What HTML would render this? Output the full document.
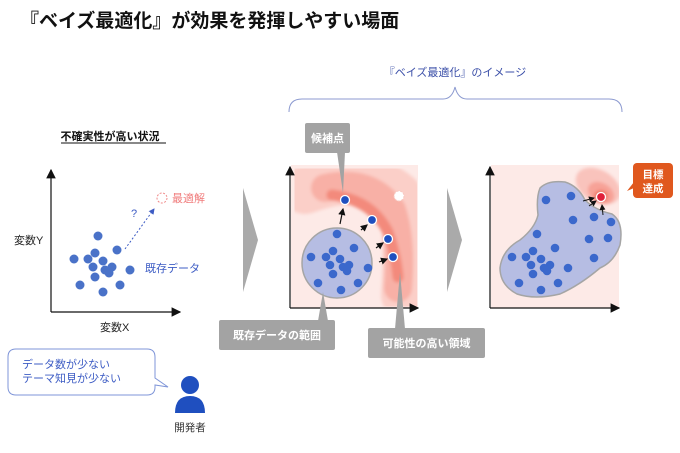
<!DOCTYPE html>
<html><head><meta charset="utf-8"><style>
html,body{margin:0;padding:0;background:#fff;}
svg{display:block;font-family:"Liberation Sans","Noto Sans CJK JP",sans-serif;}
</style></head><body>
<svg width="680" height="453" viewBox="0 0 680 453" xmlns="http://www.w3.org/2000/svg">
<defs>
<marker id="ah" markerWidth="6" markerHeight="6" refX="5" refY="3" orient="auto"><path d="M0,0 L6,3 L0,6 z" fill="#111"/></marker>
<marker id="ahb" markerWidth="6" markerHeight="6" refX="5" refY="3" orient="auto"><path d="M0,0 L6,3 L0,6 z" fill="#3d5cc4"/></marker>
<marker id="ax" markerWidth="8" markerHeight="8" refX="7" refY="4" orient="auto"><path d="M0,0 L8,4 L0,8 z" fill="#111"/></marker>
<filter id="bl"><feGaussianBlur stdDeviation="1.5"/></filter>
<clipPath id="cm"><rect x="291" y="165" width="127" height="143"/></clipPath>
<clipPath id="cr"><rect x="491" y="165" width="128" height="143"/></clipPath>
</defs>
<text x="20" y="27" font-size="19" font-weight="bold" fill="#111">『ベイズ最適化』が効果を発揮しやすい場面</text>

<text x="455" y="76" font-size="11" fill="#3b4fa8" text-anchor="middle">『ベイズ最適化』のイメージ</text>
<path d="M289,112 Q289,99 302,99 L443,99 Q452,99 455,87 Q458,99 467,99 L609,99 Q622,99 622,112" fill="none" stroke="#8c9ad0" stroke-width="1"/>

<text x="110" y="140" font-size="11" font-weight="bold" fill="#111" text-anchor="middle">不確実性が高い状況</text>
<line x1="61" y1="143" x2="166" y2="143" stroke="#111" stroke-width="1"/>
<line x1="51" y1="312" x2="51" y2="170" stroke="#111" stroke-width="1.2" marker-end="url(#ax)"/>
<line x1="51" y1="312" x2="180" y2="312" stroke="#111" stroke-width="1.2" marker-end="url(#ax)"/>
<text x="14" y="244" font-size="11" fill="#222">変数Y</text>
<text x="100" y="331" font-size="11" fill="#222">変数X</text>
<g fill="#4a72c8">
<circle cx="98" cy="236" r="4.5"/><circle cx="117" cy="250" r="4.5"/><circle cx="74" cy="259" r="4.5"/><circle cx="88" cy="259" r="4.5"/><circle cx="95" cy="253" r="4.5"/><circle cx="103" cy="261" r="4.5"/><circle cx="93" cy="267" r="4.5"/><circle cx="105" cy="270" r="4.5"/><circle cx="112" cy="267" r="4.5"/><circle cx="109" cy="273" r="4.5"/><circle cx="130" cy="270" r="4.5"/><circle cx="95" cy="277" r="4.5"/><circle cx="80" cy="285" r="4.5"/><circle cx="103" cy="292" r="4.5"/><circle cx="120" cy="285" r="4.5"/>
</g>
<line x1="125" y1="249" x2="154" y2="209" stroke="#3d5cc4" stroke-width="1" stroke-dasharray="2,2" marker-end="url(#ahb)"/>
<text x="131" y="217" font-size="11" fill="#3d5cc4">?</text>
<circle cx="162" cy="198" r="5" fill="none" stroke="#f08a8a" stroke-width="1" stroke-dasharray="2,1.5"/>
<text x="172" y="202" font-size="11" fill="#f07b7b">最適解</text>
<text x="145" y="272" font-size="11" fill="#3d5cc4">既存データ</text>

<path d="M243,188 L258,240 L243,292 Z" fill="#aaa"/>
<path d="M447,188 L462,240 L447,292 Z" fill="#aaa"/>

<rect x="291" y="165" width="127" height="143" fill="#fdeae7"/>
<g clip-path="url(#cm)">
<g filter="url(#bl)">
<path d="M305,190 Q365,168 398,196 Q410,225 405,295" fill="none" stroke="#fbcfc8" stroke-width="48" stroke-linecap="round" stroke-linejoin="round"/>
<path d="M325,188 Q370,178 392,210 Q402,240 398,288" fill="none" stroke="#f8b0a6" stroke-width="28" stroke-linecap="round"/>
<path d="M332,195 Q372,200 388,232 Q396,255 398,277" fill="none" stroke="#f38a7c" stroke-width="11" stroke-linecap="round"/>
</g>
</g>
<circle cx="399" cy="196" r="5" fill="#fff" stroke="#f7c8c0" stroke-dasharray="2,1.5"/>
<circle cx="337" cy="263" r="35" fill="#b6bde3" stroke="#a5a5a5" stroke-width="1.5"/>
<g fill="#3b68cc">
<circle cx="337" cy="234" r="4.3"/><circle cx="333" cy="251" r="4.3"/><circle cx="354" cy="248" r="4.3"/><circle cx="311" cy="257" r="4.3"/><circle cx="326" cy="257" r="4.3"/><circle cx="340" cy="259" r="4.3"/><circle cx="330" cy="265" r="4.3"/><circle cx="343" cy="267" r="4.3"/><circle cx="349" cy="265" r="4.3"/><circle cx="347" cy="271" r="4.3"/><circle cx="368" cy="268" r="4.3"/><circle cx="333" cy="274" r="4.3"/><circle cx="318" cy="283" r="4.3"/><circle cx="358" cy="283" r="4.3"/><circle cx="341" cy="290" r="4.3"/>
</g>
<g stroke="#111" stroke-width="1.2">
<line x1="340" y1="224" x2="343" y2="209" marker-end="url(#ah)"/>
<line x1="361" y1="230" x2="367" y2="225" marker-end="url(#ah)"/>
<line x1="376" y1="248" x2="383" y2="243" marker-end="url(#ah)"/>
<line x1="379" y1="262" x2="387" y2="259" marker-end="url(#ah)"/>
</g>
<g fill="#1f4fbf" stroke="#fff" stroke-width="1.3">
<circle cx="345" cy="200" r="4.5"/><circle cx="372" cy="220" r="4.5"/><circle cx="388" cy="239" r="4.5"/><circle cx="393" cy="257" r="4.5"/>
</g>
<line x1="290" y1="308" x2="290" y2="167" stroke="#111" stroke-width="1.2" marker-end="url(#ax)"/>
<line x1="290" y1="308" x2="418" y2="308" stroke="#111" stroke-width="1.2" marker-end="url(#ax)"/>

<rect x="305" y="123" width="45" height="30" rx="2" fill="#a3a3a3"/>
<path d="M337,152 L345,152 L343,193 Z" fill="#a3a3a3"/>
<text x="327.5" y="142" font-size="11" font-weight="bold" fill="#fff" text-anchor="middle">候補点</text>
<rect x="219" y="320" width="116" height="30" rx="2" fill="#a3a3a3"/>
<path d="M318,321 L328,321 L323,292 Z" fill="#a3a3a3"/>
<text x="277" y="339" font-size="11" font-weight="bold" fill="#fff" text-anchor="middle">既存データの範囲</text>
<rect x="368" y="328" width="117" height="30" rx="2" fill="#a3a3a3"/>
<path d="M395,329 L405,329 L400,272 Z" fill="#a3a3a3"/>
<text x="426.5" y="347" font-size="11" font-weight="bold" fill="#fff" text-anchor="middle">可能性の高い領域</text>

<rect x="491" y="165" width="128" height="143" fill="#fdeae7"/>
<g clip-path="url(#cr)"><g filter="url(#bl)">
<ellipse cx="598" cy="186" rx="24" ry="16" fill="#f9c3bc" transform="rotate(30 598 186)"/>
<ellipse cx="601" cy="193" rx="14" ry="10" fill="#f7a297" transform="rotate(30 601 193)"/>
<ellipse cx="601" cy="196" rx="7" ry="6" fill="#f07b6c"/>
</g></g>
<path d="M540,188 Q548,180 565,182 Q578,186 585,200 Q595,210 612,214 Q624,222 620,245 Q614,262 600,268 Q580,285 560,294 Q535,300 517,294 Q500,285 500,268 Q502,250 520,240 Q535,228 538,215 Q536,198 540,188 Z" fill="#b6bde3" stroke="#a5a5a5" stroke-width="1.5"/>
<g fill="#3b68cc">
<circle cx="546" cy="200" r="4.3"/><circle cx="571" cy="196" r="4.3"/><circle cx="573" cy="220" r="4.3"/><circle cx="594" cy="217" r="4.3"/><circle cx="611" cy="222" r="4.3"/><circle cx="537" cy="234" r="4.3"/><circle cx="589" cy="239" r="4.3"/><circle cx="608" cy="238" r="4.3"/><circle cx="555" cy="248" r="4.3"/><circle cx="533" cy="251" r="4.3"/><circle cx="512" cy="257" r="4.3"/><circle cx="526" cy="257" r="4.3"/><circle cx="541" cy="259" r="4.3"/><circle cx="531" cy="265" r="4.3"/><circle cx="550" cy="265" r="4.3"/><circle cx="544" cy="268" r="4.3"/><circle cx="547" cy="271" r="4.3"/><circle cx="568" cy="268" r="4.3"/><circle cx="594" cy="258" r="4.3"/><circle cx="533" cy="274" r="4.3"/><circle cx="519" cy="283" r="4.3"/><circle cx="541" cy="290" r="4.3"/><circle cx="558" cy="283" r="4.3"/>
</g>
<g stroke="#111" stroke-width="1">
<line x1="583" y1="201" x2="594" y2="198" marker-end="url(#ah)"/>
<line x1="589" y1="206" x2="596" y2="201" marker-end="url(#ah)"/>
<line x1="603" y1="215" x2="602" y2="205" marker-end="url(#ah)"/>
</g>
<circle cx="601" cy="197" r="4.5" fill="#e0203a" stroke="#fff" stroke-width="1.3"/>
<line x1="490" y1="308" x2="490" y2="167" stroke="#111" stroke-width="1.2" marker-end="url(#ax)"/>
<line x1="490" y1="308" x2="619" y2="308" stroke="#111" stroke-width="1.2" marker-end="url(#ax)"/>
<rect x="633" y="163" width="40" height="35" rx="4" fill="#e0581e"/>
<path d="M634,182 L627,191 L634,188 Z" fill="#e0581e"/>
<text x="653" y="178" font-size="10.5" font-weight="bold" fill="#fff" text-anchor="middle">目標</text>
<text x="653" y="192" font-size="10.5" font-weight="bold" fill="#fff" text-anchor="middle">達成</text>

<path d="M16,349 L147,349 Q155,349 155,357 L155,378 L168,387 L155,385 L155,387 Q155,395 147,395 L16,395 Q8,395 8,387 L8,357 Q8,349 16,349 Z" fill="#fff" stroke="#7f95d8" stroke-width="1"/>
<text x="22" y="368" font-size="11" fill="#3d5cc4">データ数が少ない</text>
<text x="22" y="382" font-size="11" fill="#3d5cc4">テーマ知見が少ない</text>
<circle cx="190" cy="385" r="9" fill="#1f4fbf"/>
<path d="M175,413 Q175,396 190,396 Q205,396 205,413 Z" fill="#1f4fbf"/>
<text x="190" y="431" font-size="10.5" fill="#333" text-anchor="middle">開発者</text>
</svg>
</body></html>
